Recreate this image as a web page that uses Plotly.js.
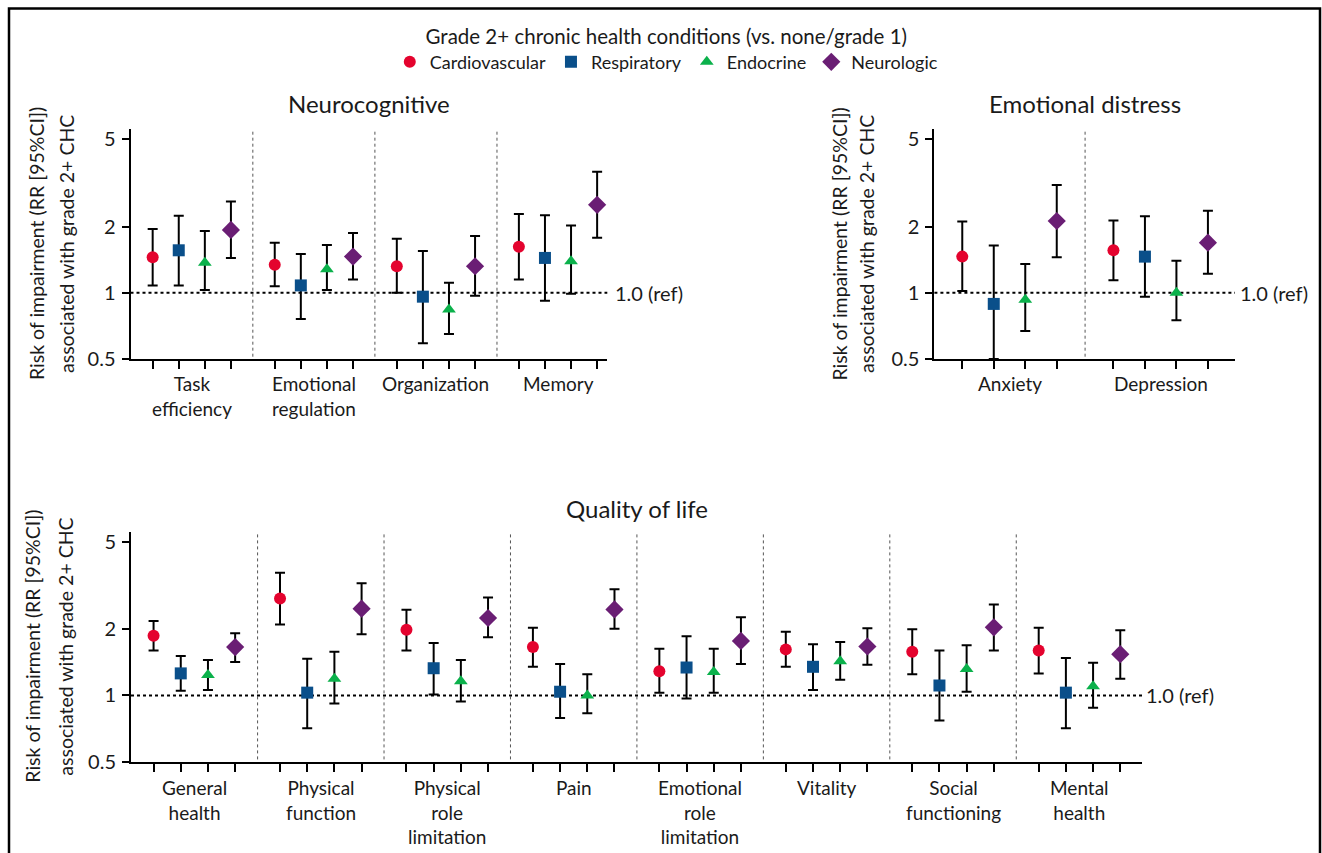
<!DOCTYPE html>
<html><head><meta charset="utf-8">
<script src="https://cdn.plot.ly/plotly-3.0.1.min.js"></script>
<style>html,body{margin:0;padding:0;background:#fff;} #chart{width:1322px;height:853px;}</style>
</head><body><div id="chart"></div>
<script>
// ---------------- data ----------------
const seriesNames = ['Cardiovascular', 'Respiratory', 'Endocrine', 'Neurologic'];
const legendTitle = 'Grade 2+ chronic health conditions (vs. none/grade 1)';
const panelTitles = ['Neurocognitive', 'Emotional distress', 'Quality of life'];
const yLabelLines = ['Risk of impairment (RR [95%CI])', 'associated with grade 2+ CHC'];
const refLabel = '1.0 (ref)';
const yTickVals = [0.5, 1, 2, 5];
const yTickText = ['0.5', '1', '2', '5'];

const neuroCats = ['Task<br>efficiency', 'Emotional<br>regulation', 'Organization', 'Memory'];
// rows: Cardiovascular, Respiratory, Endocrine, Neurologic
const neuroRR = [[1.45, 1.34, 1.32, 1.62], [1.56, 1.08, 0.96, 1.44], [1.37, 1.28, 0.84, 1.39], [1.93, 1.46, 1.32, 2.51]];
const neuroLo = [[1.08, 1.07, 1.00, 1.15], [1.08, 0.76, 0.59, 0.92], [1.03, 1.03, 0.65, 0.99], [1.44, 1.15, 0.97, 1.78]];
const neuroHi = [[1.95, 1.69, 1.76, 2.28], [2.24, 1.50, 1.55, 2.25], [1.91, 1.65, 1.11, 2.02], [2.60, 1.87, 1.81, 3.55]];

const emoCats = ['Anxiety', 'Depression'];
const emoRR = [[1.46, 1.56], [0.89, 1.46], [0.93, 1.00], [2.12, 1.69]];
const emoLo = [[1.02, 1.14], [0.50, 0.96], [0.67, 0.75], [1.45, 1.22]];
const emoHi = [[2.11, 2.13], [1.64, 2.23], [1.35, 1.40], [3.09, 2.36]];

const qolCats = ['General<br>health', 'Physical<br>function', 'Physical<br>role<br>limitation', 'Pain',
  'Emotional<br>role<br>limitation', 'Vitality', 'Social<br>functioning', 'Mental<br>health'];
const qolRR = [[1.87, 2.76, 1.99, 1.66, 1.29, 1.62, 1.58, 1.60],
               [1.26, 1.03, 1.33, 1.04, 1.34, 1.35, 1.11, 1.03],
               [1.24, 1.19, 1.16, 1.00, 1.28, 1.43, 1.32, 1.10],
               [1.66, 2.48, 2.25, 2.46, 1.77, 1.67, 2.04, 1.54]];
const qolLo = [[1.60, 2.10, 1.60, 1.35, 1.03, 1.35, 1.25, 1.26],
               [1.05, 0.71, 1.01, 0.79, 0.97, 1.06, 0.77, 0.71],
               [1.06, 0.92, 0.94, 0.83, 1.03, 1.18, 1.04, 0.88],
               [1.42, 1.90, 1.84, 2.01, 1.39, 1.38, 1.60, 1.19]];
const qolHi = [[2.18, 3.61, 2.45, 2.03, 1.63, 1.95, 2.00, 2.03],
               [1.51, 1.47, 1.73, 1.39, 1.86, 1.71, 1.60, 1.48],
               [1.45, 1.58, 1.45, 1.25, 1.63, 1.75, 1.69, 1.41],
               [1.92, 3.24, 2.79, 3.04, 2.27, 2.02, 2.59, 1.98]];

// ---------------- styling / layout ----------------
const W = 1322, H = 853;
const px = v => v / W;
const py = v => 1 - v / H;
const FONT = 'Lato, "Noto Sans", sans-serif';
const TXT = '#1a1a1a';
const colors = ['#E4032E', '#0A4F8A', '#0BB14B', '#6A1E74'];
const symbols = ['circle', 'square', 'triangle-up', 'diamond'];
const sizes = [12, 12, 12, 14];
const CAT_FS = 19, YLAB_FS = 19.5, TITLE_FS = 24, TICK_FS = 20, REF_FS = 20;

const panels = [
  {cats: neuroCats, rr: neuroRR, lo: neuroLo, hi: neuroHi, ax: '', gap: 4.68, padL: 0.85, padR: 0.39,
   xd: [130.5, 607.3], yd: [129, 359], ylab: [37, 67], refX: 613, labTop: 370, title: panelTitles[0], titleY: 104},
  {cats: emoCats, rr: emoRR, lo: emoLo, hi: emoHi, ax: '2', gap: 4.8, padL: 0.885, padR: 0.86,
   xd: [934.4, 1235], yd: [129, 359], ylab: [839.5, 867], refX: 1238, labTop: 370, title: panelTitles[1], titleY: 104},
  {cats: qolCats, rr: qolRR, lo: qolLo, hi: qolHi, ax: '3', gap: 4.65, padL: 0.83, padR: 0.81,
   xd: [131, 1142.3], yd: [531.7, 761.7], ylab: [33, 66], refX: 1144, labTop: 774, title: panelTitles[2], titleY: 508}
];

const traces = [];
const layout = {
  width: W, height: H,
  margin: {l: 0, r: 0, t: 0, b: 0},
  paper_bgcolor: '#fff', plot_bgcolor: 'rgba(0,0,0,0)',
  font: {family: FONT, color: TXT, size: 18},
  showlegend: true,
  legend: {
    orientation: 'h', x: 0.504, xanchor: 'center', y: py(17), yanchor: 'top',
    font: {size: 18, family: FONT, color: TXT},
    title: {text: legendTitle, side: 'top center', font: {size: 20.5, family: FONT, color: TXT}},
    itemclick: false, itemdoubleclick: false, traceorder: 'normal', bgcolor: 'rgba(0,0,0,0)'
  },
  shapes: [], annotations: []
};

const lyTop = Math.log10(5) + 10 / 220;

panels.forEach((p, pi) => {
  const xa = 'x' + p.ax, ya = 'y' + p.ax;
  const nG = p.cats.length;
  const xmax = (nG - 1) * p.gap + 3;
  const ticks = [];
  p.cats.forEach((c, g) => { for (let s = 0; s < 4; s++) ticks.push(g * p.gap + s); });

  layout['xaxis' + p.ax] = {
    domain: [px(p.xd[0]), px(p.xd[1])], anchor: ya,
    range: [-p.padL, xmax + p.padR], showgrid: false, zeroline: false,
    showline: true, linewidth: 2, linecolor: '#000',
    tickvals: ticks, ticks: 'outside', ticklen: 8, tickwidth: 2, tickcolor: '#000',
    showticklabels: false, fixedrange: true
  };
  layout['yaxis' + p.ax] = {
    domain: [py(p.yd[1]), py(p.yd[0])], anchor: xa, type: 'log',
    range: [Math.log10(0.5), lyTop], showgrid: false, zeroline: false,
    showline: true, linewidth: 2, linecolor: '#000',
    tickvals: yTickVals, ticktext: yTickText, ticks: 'outside', ticklen: 7, tickwidth: 2, tickcolor: '#000',
    tickfont: {size: TICK_FS, family: FONT, color: TXT}, ticklabelstandoff: 2, fixedrange: true
  };

  // series
  for (let s = 0; s < 4; s++) {
    traces.push({
      type: 'scatter', mode: 'markers', name: seriesNames[s], legendgroup: seriesNames[s],
      showlegend: pi === 0, xaxis: xa, yaxis: ya,
      x: p.cats.map((c, g) => g * p.gap + s),
      y: p.rr[s],
      error_y: {type: 'data', symmetric: false,
        array: p.rr[s].map((v, g) => p.hi[s][g] - v),
        arrayminus: p.rr[s].map((v, g) => v - p.lo[s][g]),
        color: '#000', thickness: 2, width: 5},
      marker: {symbol: symbols[s], size: sizes[s], color: colors[s], line: {width: 0}},
      cliponaxis: false, hoverinfo: 'x+y'
    });
  }

  // separators
  for (let g = 0; g < nG - 1; g++) {
    const sx = g * p.gap + 3 + (p.gap - 3) / 2;
    layout.shapes.push({type: 'line', xref: xa, yref: ya + ' domain', x0: sx, x1: sx, y0: 0.01, y1: 1,
      line: {color: '#555', width: 1, dash: 'dot'}, layer: 'below'});
  }
  // reference line at RR = 1
  layout.shapes.push({type: 'line', xref: xa + ' domain', yref: ya, x0: 0, x1: 1, y0: 1, y1: 1,
    line: {color: '#000', width: 2, dash: 'dot'}, layer: 'below'});

  layout.annotations.push({xref: 'paper', yref: ya, x: px(p.refX), y: 0, xanchor: 'left', yanchor: 'middle',
    text: refLabel, showarrow: false, font: {size: REF_FS, family: FONT, color: TXT}});

  // category labels
  p.cats.forEach((c, g) => {
    layout.annotations.push({xref: xa, yref: 'paper', x: g * p.gap + 1.5, y: py(p.labTop),
      xanchor: 'center', yanchor: 'top', text: c, showarrow: false, align: 'center',
      font: {size: CAT_FS, family: FONT, color: TXT}});
  });

  // panel title
  layout.annotations.push({xref: 'paper', yref: 'paper', x: px((p.xd[0] + p.xd[1]) / 2), y: py(p.titleY),
    xanchor: 'center', yanchor: 'middle', text: p.title, showarrow: false,
    font: {size: TITLE_FS, family: FONT, color: TXT}});

  // y labels (two lines)
  const yc = (p.yd[0] + p.yd[1]) / 2;
  yLabelLines.forEach((t, k) => {
    layout.annotations.push({xref: 'paper', yref: 'paper', x: px(p.ylab[k]), y: py(yc),
      xanchor: 'center', yanchor: 'middle', textangle: -90, text: t, showarrow: false,
      font: {size: YLAB_FS, family: FONT, color: TXT}});
  });
});

// outer frame
layout.shapes.push({type: 'rect', xref: 'paper', yref: 'paper', x0: px(9), x1: px(1320), y0: -0.05, y1: py(8.5),
  line: {color: '#000', width: 2.5}, fillcolor: 'rgba(0,0,0,0)'});

Plotly.newPlot('chart', traces, layout, {displayModeBar: false});
</script>
</body></html>
